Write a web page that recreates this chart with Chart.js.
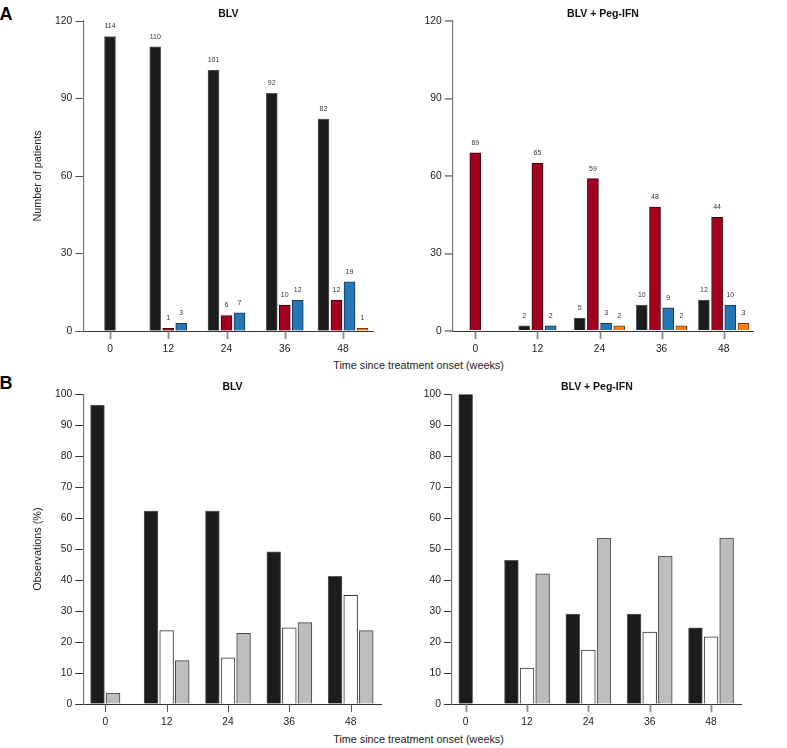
<!DOCTYPE html>
<html><head><meta charset="utf-8">
<script src="https://cdn.jsdelivr.net/npm/chart.js@4/dist/chart.umd.min.js"></script>
<style>
body{margin:0;background:#fff;width:787px;height:748px;position:relative;overflow:hidden;font-family:"Liberation Sans",Arial,sans-serif;}
canvas{position:absolute;}
.lbl{position:absolute;font-weight:bold;font-size:18px;line-height:18px;color:#000;}
.xt{position:absolute;font-size:10.8px;line-height:13px;color:#222;white-space:nowrap;transform:translate(-50%,-50%);}
</style></head><body>
<div class="lbl" style="left:-0.5px;top:4.8px">A</div>
<div class="lbl" style="left:-0.5px;top:374px">B</div>
<div class="xt" style="left:418.5px;top:365px">Time since treatment onset (weeks)</div>
<div class="xt" style="left:418.5px;top:739px">Time since treatment onset (weeks)</div>
<canvas id="aL" width="390" height="355" style="left:0;top:0"></canvas>
<canvas id="aR" width="397" height="355" style="left:390px;top:0"></canvas>
<canvas id="bL" width="390" height="352" style="left:0;top:376px"></canvas>
<canvas id="bR" width="397" height="352" style="left:390px;top:376px"></canvas>
<script>
// ---- data ----
const weeks = [0, 12, 24, 36, 48];
const yTicksA = [0, 30, 60, 90, 120];
const yTicksB = [0, 10, 20, 30, 40, 50, 60, 70, 80, 90, 100];

// Panel A: number of patients, BLV
const aBlvBlack  = [114, 110, 101, 92, 82];
const aBlvRed    = [null, 1, 6, 10, 12];
const aBlvBlue   = [null, 3, 7, 12, 19];
const aBlvOrange = [null, null, null, null, 1];
// Panel A: number of patients, BLV + Peg-IFN
const aPegBlack  = [null, 2, 5, 10, 12];
const aPegRed    = [69, 65, 59, 48, 44];
const aPegBlue   = [null, 2, 3, 9, 10];
const aPegOrange = [null, null, 2, 2, 3];

// Panel B: observations (%), BLV
const bBlvBlack = [96.5, 62.3, 62.3, 49.1, 41.2];
const bBlvWhite = [null, 23.7, 14.9, 24.6, 35.1];
const bBlvGray  = [3.5, 14.0, 22.8, 26.3, 23.7];
// Panel B: observations (%), BLV + Peg-IFN
const bPegBlack = [100, 46.4, 29.0, 29.0, 24.6];
const bPegWhite = [null, 11.6, 17.4, 23.2, 21.7];
const bPegGray  = [null, 42.0, 53.6, 47.8, 53.6];

const FONT = '"Liberation Sans", Arial, sans-serif';
const pts = arr => weeks.map((w, i) => ({x: w, y: arr[i]}));

const valueLabels = {
  id: 'valueLabels',
  afterDatasetsDraw(chart, args, opts) {
    if (!opts.show) return;
    const ctx = chart.ctx;
    ctx.save();
    ctx.font = '7px ' + FONT;
    ctx.fillStyle = '#333';
    ctx.textAlign = 'center';
    ctx.textBaseline = 'middle';
    chart.data.datasets.forEach((ds, di) => {
      const meta = chart.getDatasetMeta(di);
      meta.data.forEach((el, i) => {
        const v = ds.data[i].y;
        if (v === null || v === undefined) return;
        ctx.fillText(String(v), el.x, el.y - 10);
      });
    });
    ctx.restore();
  }
};

// tick marks under the x axis, placed through the x scale
const xTickMarks = {
  id: 'xTickMarks',
  afterDraw(chart, args, opts) {
    const xs = chart.scales.x;
    const ctx = chart.ctx;
    const y0 = chart.chartArea.bottom;
    ctx.save();
    ctx.strokeStyle = opts.color || '#8c8c8c';
    ctx.lineWidth = opts.width || 1.8;
    weeks.forEach(w => {
      const px = Math.round(xs.getPixelForValue(w)) + 0.5;
      ctx.beginPath();
      ctx.moveTo(px, y0 + 0.5);
      ctx.lineTo(px, y0 + 8);
      ctx.stroke();
    });
    ctx.restore();
  }
};

function ds(arr, fill, border, thick, maxThick) {
  return {data: pts(arr), backgroundColor: fill, borderColor: border, borderWidth: 1,
    barThickness: thick, maxBarThickness: maxThick, skipNull: true};
}

function make(id, cfg) {
  const yTicks = cfg.yTicks;
  new Chart(document.getElementById(id), {
    type: 'bar',
    data: {datasets: cfg.datasets},
    plugins: [valueLabels, xTickMarks],
    options: {
      responsive: false,
      animation: false,
      events: [],
      layout: {padding: {left: 0, right: cfg.padRight, top: 0, bottom: 0}},
      plugins: {
        legend: {display: false},
        tooltip: {enabled: false},
        valueLabels: {show: cfg.showValues},
        xTickMarks: {color: cfg.xTickColor, width: cfg.xTickWidth},
        title: {display: true, text: cfg.title, fullSize: false, color: '#111',
          font: {family: FONT, size: 10.5, weight: 'bold', lineHeight: 1.2},
          padding: {top: cfg.titleTop, bottom: cfg.titleBottom}}
      },
      scales: {
        x: {
          type: 'linear', min: cfg.xMin, max: cfg.xMax, offset: false,
          afterBuildTicks: s => { s.ticks = weeks.map(v => ({value: v})); },
          afterFit: s => { s.height = 24; },
          ticks: {font: {family: FONT, size: 10.3}, color: '#222', padding: 12, autoSkip: false, maxRotation: 0, includeBounds: false},
          grid: {offset: false, drawOnChartArea: false, drawTicks: false},
          border: {color: '#333', width: 1}
        },
        y: {
          min: 0, max: yTicks[yTicks.length - 1],
          afterBuildTicks: s => { s.ticks = yTicks.map(v => ({value: v})); },
          afterFit: s => { s.width = cfg.yWidth; },
          ticks: {font: {family: FONT, size: 10.3}, color: '#222', padding: 3},
          grid: {drawOnChartArea: false, drawTicks: true, tickLength: 8, color: cfg.yTickColor, lineWidth: cfg.yTickWidth},
          border: {color: '#777', width: 1.2},
          title: {display: !!cfg.yTitle, text: cfg.yTitle || '', color: '#222',
            font: {family: FONT, size: 10.8}, padding: {top: 32, bottom: 0}}
        }
      }
    }
  });
}

const BLACK = '#1c1c1c', RED = '#a3001f', BLUE = '#2577b5', ORANGE = '#ff7f0e';
const WHITE = '#ffffff', GRAY = '#bdbdbd';

make('aL', {
  title: 'BLV', yTitle: 'Number of patients', yTicks: yTicksA, showValues: true,
  yWidth: 83.3, padRight: 16.7, xMin: -5.5, xMax: 54.24, titleTop: 7.4, titleBottom: 1.0,
  yTickColor: '#555', yTickWidth: 1, xTickColor: '#8c8c8c', xTickWidth: 1.8,
  datasets: [ds(aBlvBlack, BLACK, '#5a5a5a', 13, 11), ds(aBlvRed, RED, '#3a0010', 13, 11),
             ds(aBlvBlue, BLUE, '#1a3550', 13, 11), ds(aBlvOrange, ORANGE, '#6a3a10', 13, 11)]
});
make('aR', {
  title: 'BLV + Peg-IFN', yTitle: '', yTicks: yTicksA, showValues: true,
  yWidth: 62.7, padRight: 33.7, xMin: -4.37, xMax: 53.72, titleTop: 7.4, titleBottom: 1.0,
  yTickColor: '#8c8c8c', yTickWidth: 1.8, xTickColor: '#8c8c8c', xTickWidth: 1.8,
  datasets: [ds(aPegBlack, BLACK, '#5a5a5a', 13.2, 11), ds(aPegRed, RED, '#3a0010', 13.2, 11),
             ds(aPegBlue, BLUE, '#1a3550', 13.2, 11), ds(aPegOrange, ORANGE, '#6a3a10', 13.2, 11)]
});
make('bL', {
  title: 'BLV', yTitle: 'Observations (%)', yTicks: yTicksB, showValues: false,
  yWidth: 83.3, padRight: 8.3, xMin: -4.3, xMax: 54.07, titleTop: 4.4, titleBottom: 1.3,
  yTickColor: '#333', yTickWidth: 1, xTickColor: '#555', xTickWidth: 1,
  datasets: [ds(bBlvBlack, BLACK, '#5a5a5a', 15.6, 13.8), ds(bBlvWhite, WHITE, '#333', 15.6, 13.8),
             ds(bBlvGray, GRAY, '#444', 15.6, 13.8)]
});
make('bR', {
  title: 'BLV + Peg-IFN', yTitle: '', yTicks: yTicksB, showValues: false,
  yWidth: 62, padRight: 45.3, xMin: -2.68, xMax: 54.0, titleTop: 4.4, titleBottom: 1.3,
  yTickColor: '#333', yTickWidth: 1, xTickColor: '#8c8c8c', xTickWidth: 1.8,
  datasets: [ds(bPegBlack, BLACK, '#5a5a5a', 15.6, 13.8), ds(bPegWhite, WHITE, '#333', 15.6, 13.8),
             ds(bPegGray, GRAY, '#444', 15.6, 13.8)]
});
</script>
</body></html>
